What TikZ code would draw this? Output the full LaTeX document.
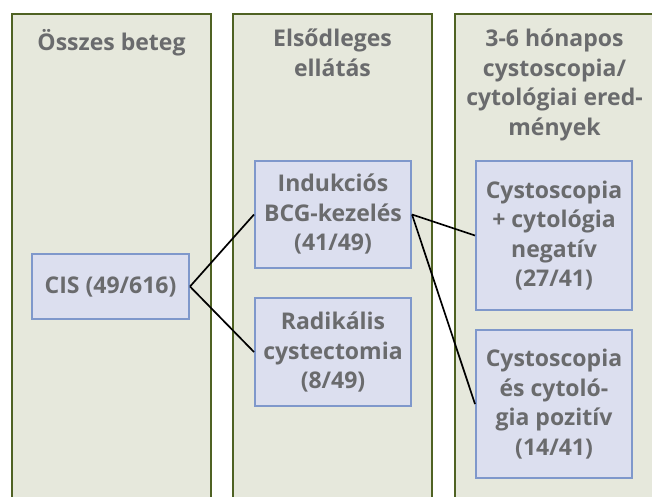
\documentclass[tikz,border=0pt]{standalone}
\usepackage{fontspec}
\setmainfont{Open Sans}
\usetikzlibrary{positioning}
\definecolor{panelfill}{HTML}{E6E8DC}
\definecolor{paneldraw}{HTML}{4F6223}
\definecolor{blockfill}{HTML}{DCDFEF}
\definecolor{blockdraw}{HTML}{7F98CB}
\definecolor{textgray}{HTML}{6A6B6D}
\tikzset{%
  font=\bfseries\fontsize{23}{29.5}\selectfont,
  column/.style = {rectangle, draw=paneldraw, line width=2pt, fill=panelfill, minimum width=199pt, minimum height=500pt, anchor=north west, inner sep=0pt},
  title/.style  = {align=center, text=textgray, inner sep=0pt},
  block/.style  = {rectangle, draw=blockdraw, line width=2pt, fill=blockfill, text=textgray, align=center, minimum width=156pt, inner sep=0pt},
  line/.style   = {draw, line width=1.7pt, black}
}

\begin{document}
\begin{tikzpicture}[x=1pt,y=-1pt]
	\clip (0,0) rectangle (652,496);
	% columns
	\node[column] (col1) at (11,13) {};
	\node[column] (col2) at (232,13) {};
	\node[column] (col3) at (454,13) {};
	
	\node[title, below=16pt of col1.north] (t1) {Összes beteg};
	\node[title, below=16pt of col2.north] (t2) {Elsődleges\\ellátás};
	\node[title, below=16pt of col3.north] (t3) {3-6 hónapos\\cystoscopia/\\cytológiai ered-\\mények};
	
	% boxes
	\node[block, minimum height=65pt, minimum width=157pt] (cis) at (110.5,286.5) {CIS (49/616)};
	\node[block, minimum height=107pt] (ind) at (333,214.5) {Indukciós\\BCG-kezelés\\(41/49)};
	\node[block, minimum height=108pt] (rad) at (333,352) {Radikális\\cystectomia\\(8/49)};
	\node[block, minimum height=149pt] (neg) at (554,235.5) {Cystoscopia\\+ cytológia\\negatív\\(27/41)};
	\node[block, minimum height=148pt] (poz) at (554,404) {Cystoscopia\\és cytoló-\\gia pozitív\\(14/41)};
	
	\draw[line] (cis.east) -- (ind.west);
	\draw[line] (cis.east) -- (rad.west);
	\draw[line] (ind.east) -- (neg.west);
	\draw[line] (ind.east) -- (poz.west);
\end{tikzpicture}
\end{document}
